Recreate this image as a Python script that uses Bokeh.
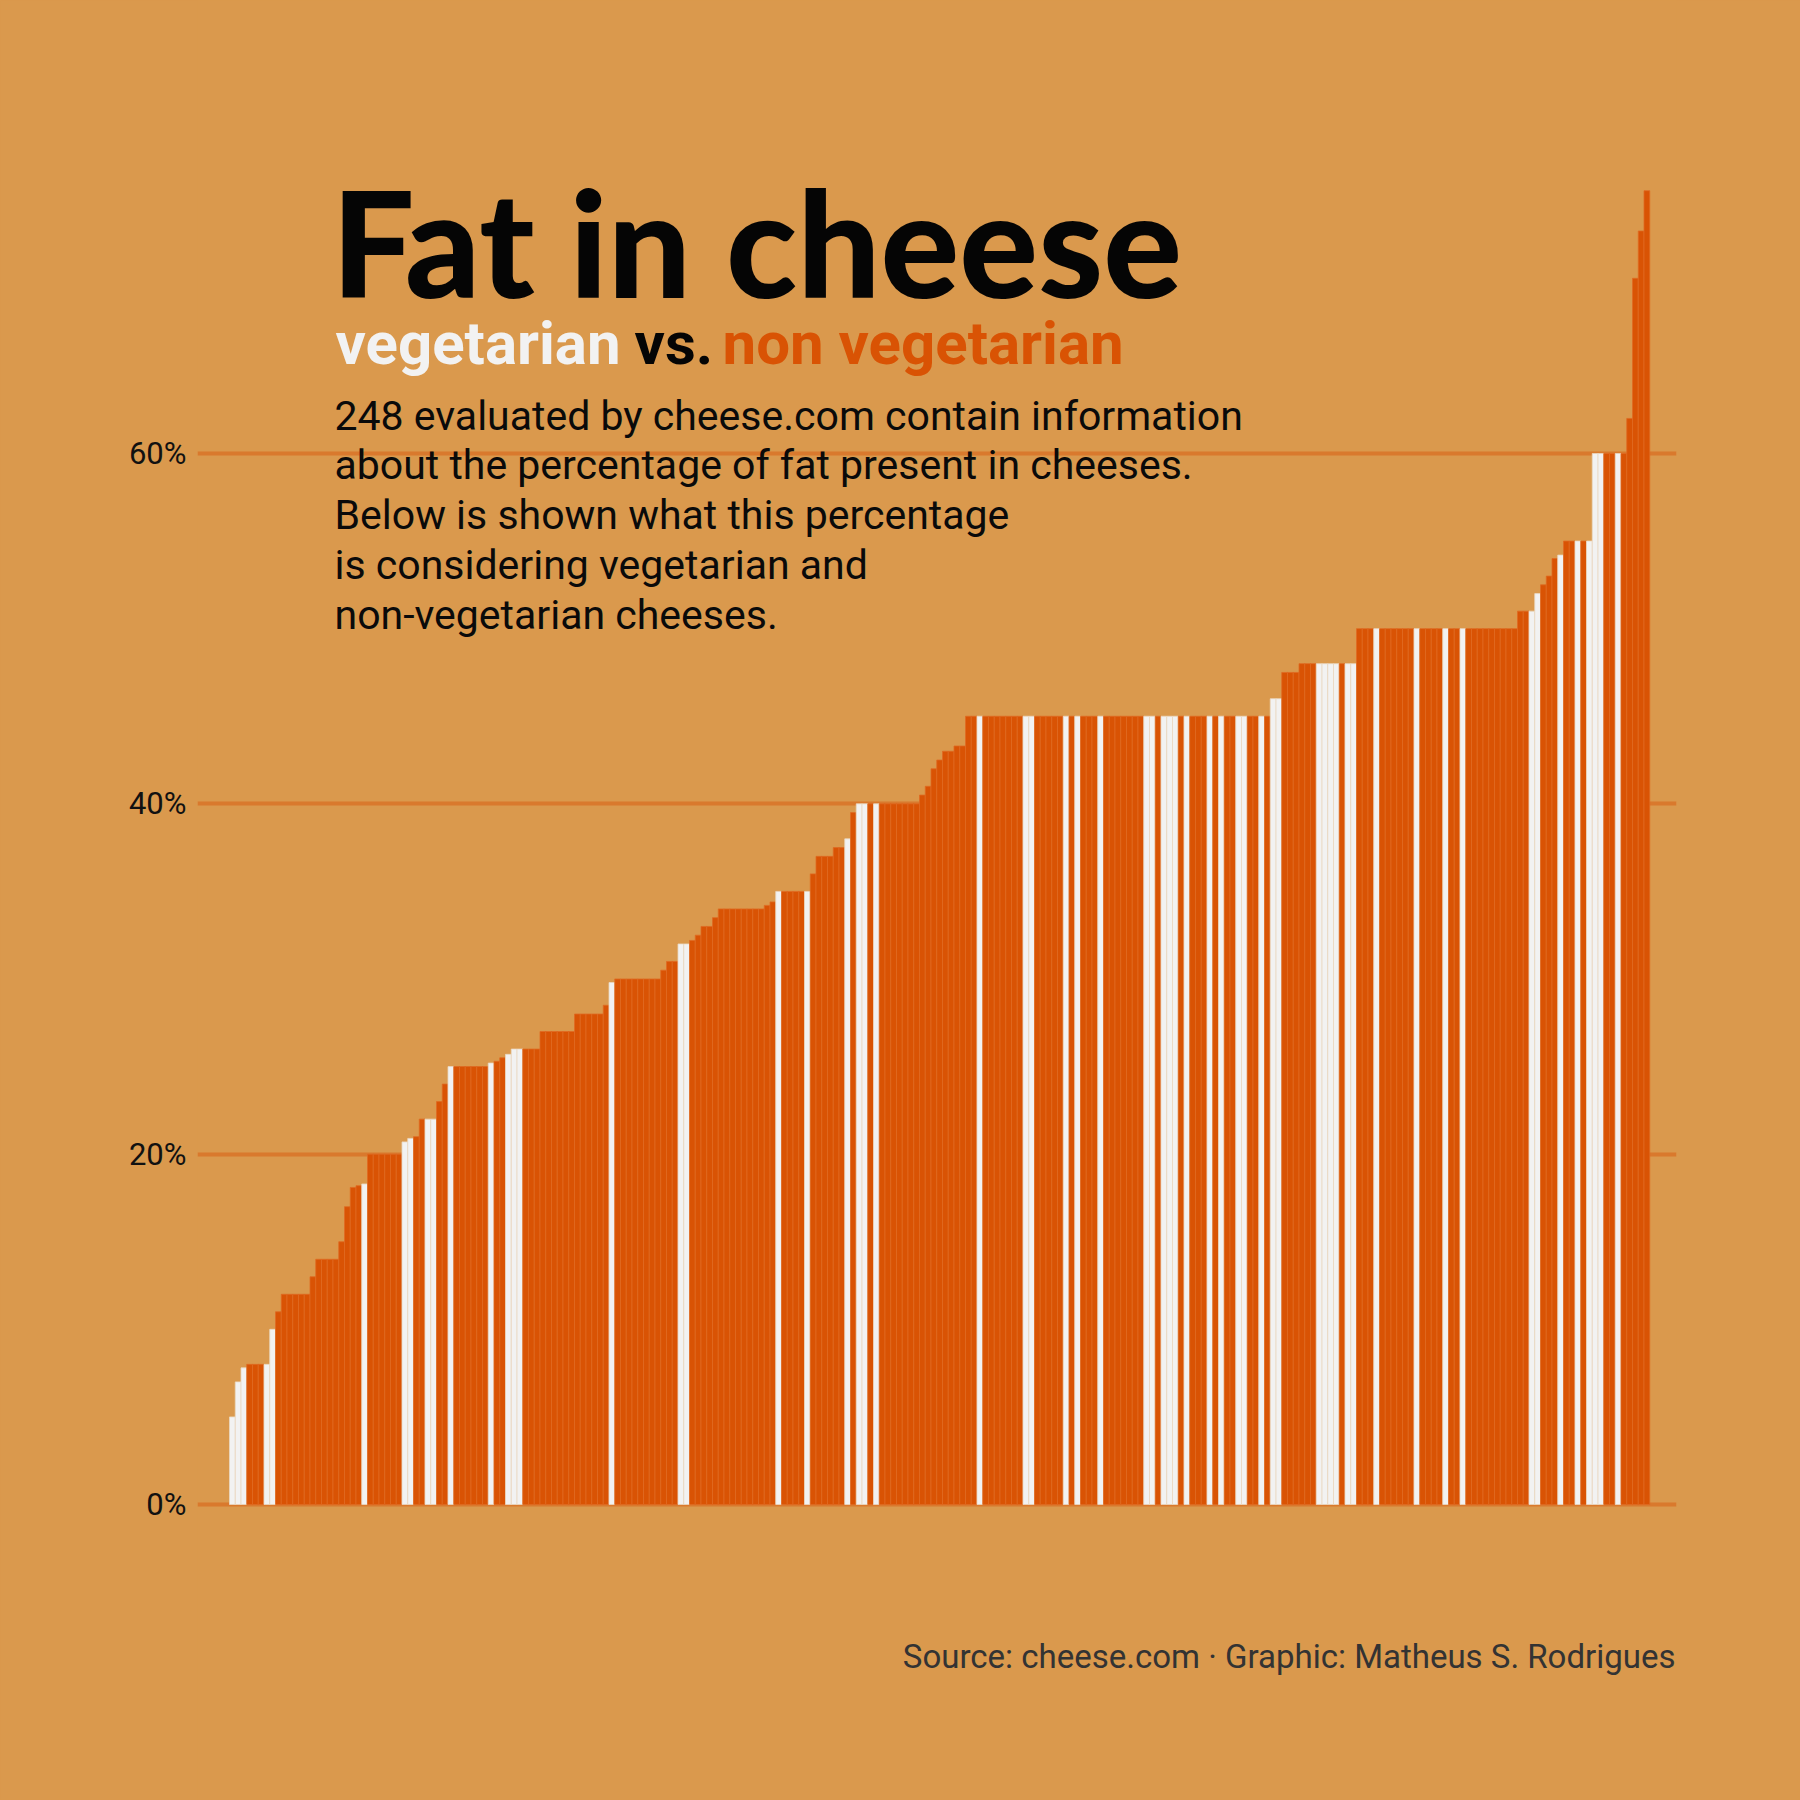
from bokeh.plotting import figure
from bokeh.models import ColumnDataSource, Label, Range1d, FixedTicker, PrintfTickFormatter
from bokeh.embed import file_html
from bokeh.resources import INLINE

# ---- data (sorted by fat %) ----
fat = [
    5, 7, 7.8, 8, 8, 8, 8, 10, 11, 12,
    12, 12, 12, 12, 13, 14, 14, 14, 14, 15,
    17, 18.1, 18.2, 18.3, 20, 20, 20, 20, 20, 20,
    20.7, 20.9, 21, 22, 22, 22, 23, 24, 25, 25,
    25, 25, 25, 25, 25, 25.2, 25.3, 25.5, 25.7, 26,
    26, 26, 26, 26, 27, 27, 27, 27, 27, 27,
    28, 28, 28, 28, 28, 28.5, 29.8, 30, 30, 30,
    30, 30, 30, 30, 30, 30.5, 31, 31, 32, 32,
    32.2, 32.5, 33, 33, 33.5, 34, 34, 34, 34, 34,
    34, 34, 34, 34.2, 34.4, 35, 35, 35, 35, 35,
    35, 36, 37, 37, 37, 37.5, 37.5, 38, 39.5, 40,
    40, 40, 40, 40, 40, 40, 40, 40, 40, 40,
    40.5, 41, 42, 42.5, 43, 43, 43.3, 43.3, 45, 45,
    45, 45, 45, 45, 45, 45, 45, 45, 45, 45,
    45, 45, 45, 45, 45, 45, 45, 45, 45, 45,
    45, 45, 45, 45, 45, 45, 45, 45, 45, 45,
    45, 45, 45, 45, 45, 45, 45, 45, 45, 45,
    45, 45, 45, 45, 45, 45, 45, 45, 45, 45,
    45, 46, 46, 47.5, 47.5, 47.5, 48, 48, 48, 48,
    48, 48, 48, 48, 48, 48, 50, 50, 50, 50,
    50, 50, 50, 50, 50, 50, 50, 50, 50, 50,
    50, 50, 50, 50, 50, 50, 50, 50, 50, 50,
    50, 50, 50, 50, 51, 51, 51, 52, 52.5, 53,
    54, 54.2, 55, 55, 55, 55, 55, 60, 60, 60,
    60, 60, 60, 62, 70, 72.7, 75,
]
# 1 = vegetarian, 0 = non vegetarian
vegetarian = [
    1, 1, 1, 0, 0, 0, 1, 1, 0, 0,
    0, 0, 0, 0, 0, 0, 0, 0, 0, 0,
    0, 0, 0, 1, 0, 0, 0, 0, 0, 0,
    1, 1, 0, 0, 1, 1, 0, 0, 1, 0,
    0, 0, 0, 0, 0, 1, 0, 0, 1, 1,
    1, 0, 0, 0, 0, 0, 0, 0, 0, 0,
    0, 0, 0, 0, 0, 0, 1, 0, 0, 0,
    0, 0, 0, 0, 0, 0, 0, 0, 1, 1,
    0, 0, 0, 0, 0, 0, 0, 0, 0, 0,
    0, 0, 0, 0, 0, 1, 0, 0, 0, 0,
    1, 0, 0, 0, 0, 0, 0, 1, 0, 1,
    1, 0, 1, 0, 0, 0, 0, 0, 0, 0,
    0, 0, 0, 0, 0, 0, 0, 0, 0, 0,
    1, 0, 0, 0, 0, 0, 0, 0, 1, 1,
    0, 0, 0, 0, 0, 1, 0, 1, 0, 0,
    0, 1, 0, 0, 0, 0, 0, 0, 0, 1,
    1, 0, 1, 1, 1, 0, 1, 0, 0, 0,
    1, 0, 1, 0, 0, 1, 1, 0, 0, 1,
    0, 1, 1, 0, 0, 0, 0, 0, 0, 1,
    1, 1, 1, 0, 1, 1, 0, 0, 0, 1,
    0, 0, 0, 0, 0, 0, 1, 0, 0, 0,
    0, 1, 0, 0, 1, 0, 0, 0, 0, 0,
    0, 0, 0, 0, 0, 0, 1, 1, 0, 0,
    0, 1, 0, 0, 1, 0, 1, 1, 1, 0,
    0, 1, 0, 0, 0, 0, 0,
]
y_ticks = [0, 20, 40, 60]

BG = "#DA994D"
GRID = "#D9792D"
ORANGE = "#D95304"
WHITE = "#F2F2F2"

n = len(fat)
src = ColumnDataSource(dict(
    x=list(range(n)),
    fat=fat,
    fill=[WHITE if v else ORANGE for v in vegetarian],
    line=["#EAD8C2" if v else "#E06A22" for v in vegetarian],
))

PITCH = 5.75
X0 = 231.875
ZERO_Y = 1504.0
PX_PER_PCT = 17.517


def X(px):
    return (px - X0) / PITCH


def Y(py):
    return (ZERO_Y - py) / PX_PER_PCT


def YB(py, size):
    # baseline position, compensating the svg text baseline offset
    return Y(py - 0.36 * size)


p = figure(width=1800, height=1800, output_backend="svg", toolbar_location=None,
           x_range=Range1d(X(197), X(1676)), y_range=Range1d(Y(1800), Y(0)),
           x_axis_location=None, min_border_left=197, min_border_right=124,
           min_border_top=0, min_border_bottom=0)
p.background_fill_color = BG
p.border_fill_color = BG
p.outline_line_color = None
p.styles = {"background-color": BG}
p.xgrid.visible = False

p.yaxis.ticker = FixedTicker(ticks=y_ticks)
p.yaxis.formatter = PrintfTickFormatter(format="%d%%")
p.yaxis.axis_line_color = None
p.yaxis.major_tick_line_color = None
p.yaxis.minor_tick_line_color = None
p.yaxis.major_tick_out = 0
p.yaxis.major_tick_in = 0
p.yaxis.major_label_standoff = 11
p.yaxis.major_label_text_font = "Roboto"
p.yaxis.major_label_text_font_size = "31px"
p.yaxis.major_label_text_color = "#111111"
p.ygrid.ticker = FixedTicker(ticks=y_ticks)
p.ygrid.grid_line_color = GRID
p.ygrid.grid_line_width = 4

p.vbar(x="x", top="fat", bottom=0, width=1.0, source=src,
       fill_color="fill", line_color="line", line_width=0.8)

# ---- texts ----
TS = 147
p.add_layout(Label(x=X(331), y=YB(293, TS), text="Fat in cheese", text_font="Lato Black",
                   text_font_style="bold", text_font_size=f"{TS}px", text_color="#050505",
                   text_baseline="alphabetic"))
SS = 60
sub = [("vegetarian", 335, WHITE), ("vs.", 634, "#050505"), ("non vegetarian", 722, ORANGE)]
for t, px, c in sub:
    p.add_layout(Label(x=X(px), y=YB(365, SS), text=t, text_font="Roboto", text_font_style="bold",
                       text_font_size=f"{SS}px", text_color=c, text_baseline="alphabetic"))

BS = 41
body = [
    "248 evaluated by cheese.com contain information",
    "about the percentage of fat present in cheeses.",
    "Below is shown what this percentage",
    "is considering vegetarian and",
    "non-vegetarian cheeses.",
]
for k, line in enumerate(body):
    p.add_layout(Label(x=X(334), y=YB(430 + k * 49.7, BS), text=line, text_font="Roboto",
                       text_font_size=f"{BS}px", text_color="#0A0A0A", text_baseline="alphabetic"))

CS = 33
p.add_layout(Label(x=X(1675), y=YB(1668, CS), text="Source: cheese.com · Graphic: Matheus S. Rodrigues",
                   text_font="Roboto", text_font_size=f"{CS}px", text_color="#333333",
                   text_align="right", text_baseline="alphabetic"))

open("out.html", "w").write(file_html(p, INLINE))
